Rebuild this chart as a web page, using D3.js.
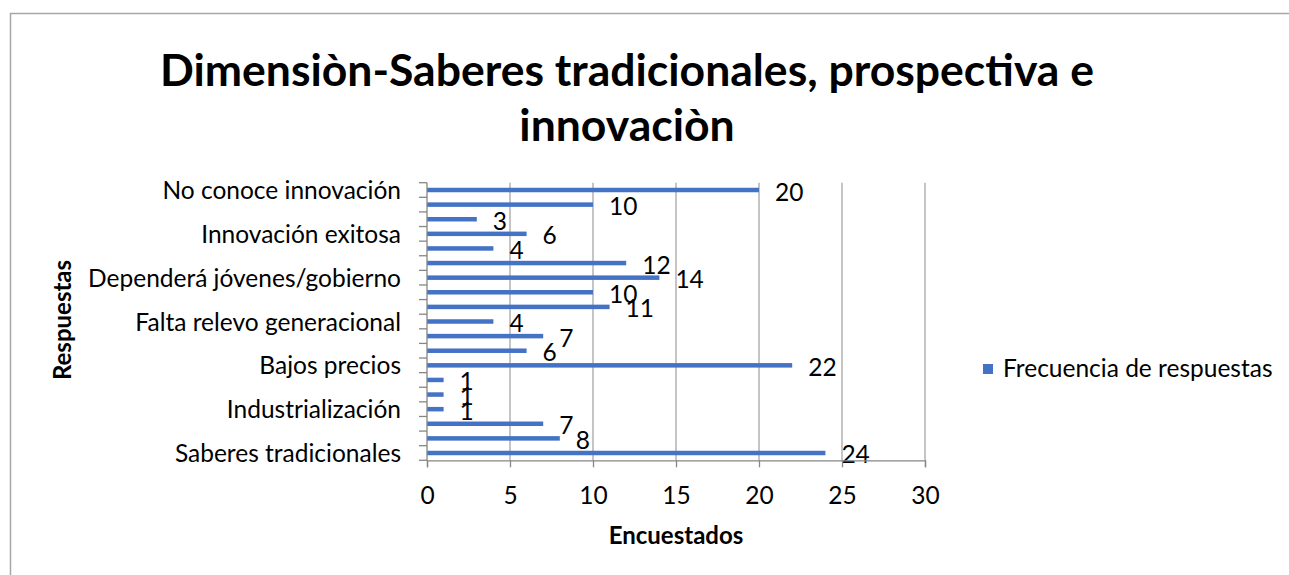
<!DOCTYPE html>
<html>
<head>
<meta charset="utf-8">
<script src="https://cdn.jsdelivr.net/npm/d3@7"></script>
<style>
  body { margin: 0; background: #fff; }
  text { font-family: Lato, "Open Sans", sans-serif; fill: #000; }
</style>
</head>
<body>
<div id="chart"></div>
<script>
// Horizontal bar chart: Dimension - Saberes tradicionales

var categories = [
  "Saberes tradicionales", "Respuesta 2", "Respuesta 3",
  "Industrialización", "Respuesta 5", "Respuesta 6",
  "Bajos precios", "Respuesta 8", "Respuesta 9",
  "Falta relevo generacional", "Respuesta 11", "Respuesta 12",
  "Dependerá jóvenes/gobierno", "Respuesta 14", "Respuesta 15",
  "Innovación exitosa", "Respuesta 17", "Respuesta 18",
  "No conoce innovación"
]
var values = [24, 8, 7, 1, 1, 1, 22, 6, 7, 4, 11, 10, 14, 12, 4, 6, 3, 10, 20]
var shownLabels = ["Saberes tradicionales", "Industrialización", "Bajos precios",
  "Falta relevo generacional", "Dependerá jóvenes/gobierno", "Innovación exitosa",
  "No conoce innovación"]
var xTicks = [0, 5, 10, 15, 20, 25, 30]
var seriesName = "Frecuencia de respuestas"
var titleLines = ["Dimensiòn-Saberes tradicionales, prospectiva e", "innovaciòn"]

var width = 1289, height = 575
var blue = "#4472C4"
var fs = 24.5

var svg = d3.select("#chart").append("svg")
    .attr("width", width)
    .attr("height", height)

// chart frame
svg.append("rect")
  .attr("x", 10.5).attr("y", 13.5)
  .attr("width", 1300).attr("height", 600)
  .attr("fill", "none")
  .attr("stroke", "#a6a6a6")
  .attr("stroke-width", 1.5)

// Scales

var x = d3.scaleLinear()
  .domain([0, 30])
  .range([427, 925])

var data = categories.map(function (c, i) { return { cat: c, value: values[i] } })

var y = d3.scaleBand()
  .domain(categories.slice().reverse())
  .range([182.7, 460.3])
  .padding(0)

var step = y.step()
var barH = 4.5

// gridlines
svg.selectAll(".grid")
  .data(xTicks.slice(1))
  .enter().append("line")
  .attr("class", "grid")
  .attr("x1", function (d) { return x(d) }).attr("x2", function (d) { return x(d) })
  .attr("y1", 182.7).attr("y2", 460.3)
  .attr("stroke", "#a6a6a6")
  .attr("stroke-width", 1.3)

// bars
svg.selectAll(".bar")
  .data(data)
  .enter().append("rect")
  .attr("class", "bar")
  .attr("x", x(0))
  .attr("y", function (d) { return y(d.cat) + step / 2 - barH / 2 })
  .attr("width", function (d) { return x(d.value) - x(0) })
  .attr("height", barH)
  .attr("fill", blue)

// data labels
svg.selectAll(".val")
  .data(data)
  .enter().append("text")
  .attr("class", "val")
  .attr("x", function (d) { return x(d.value) + 16 })
  .attr("y", function (d) { return y(d.cat) + step / 2 + 10.5 })
  .attr("font-size", fs)
  .text(function (d) { return d.value })

// x axis
var xAxis = svg.append("g")
  .attr("transform", "translate(0,460.3)")
  .call(d3.axisBottom(x).tickValues(xTicks).tickSize(7).tickPadding(19))
xAxis.select(".domain").attr("stroke", "#868686").attr("stroke-width", 1.3)
xAxis.selectAll(".tick line").attr("stroke", "#868686").attr("stroke-width", 1.3)
xAxis.selectAll(".tick text")
  .attr("font-size", fs)
  .attr("font-family", "Lato, sans-serif")
  .attr("fill", "#000")

// y axis: ticks at category boundaries
var yAxis = svg.append("g")
yAxis.append("line")
  .attr("x1", x(0)).attr("x2", x(0))
  .attr("y1", 182.7).attr("y2", 460.3)
  .attr("stroke", "#868686").attr("stroke-width", 1.3)
yAxis.selectAll(".ytick")
  .data(d3.range(categories.length + 1))
  .enter().append("line")
  .attr("class", "ytick")
  .attr("x1", x(0) - 8).attr("x2", x(0))
  .attr("y1", function (i) { return 182.7 + i * step })
  .attr("y2", function (i) { return 182.7 + i * step })
  .attr("stroke", "#868686").attr("stroke-width", 1.3)
yAxis.selectAll(".ylab")
  .data(shownLabels)
  .enter().append("text")
  .attr("class", "ylab")
  .attr("x", 401)
  .attr("y", function (d) { return y(d) + step / 2 + 9 })
  .attr("text-anchor", "end")
  .attr("font-size", fs)
  .text(function (d) { return d })

// titles
svg.selectAll(".title")
  .data(titleLines)
  .enter().append("text")
  .attr("class", "title")
  .attr("x", 627)
  .attr("y", function (d, i) { return 86 + i * 55 })
  .attr("text-anchor", "middle")
  .attr("font-size", 44.5)
  .attr("font-weight", "bold")
  .text(function (d) { return d })

svg.append("text")
  .attr("transform", "translate(71,320) rotate(-90)")
  .attr("text-anchor", "middle")
  .attr("font-size", 24)
  .attr("font-weight", "bold")
  .text("Respuestas")

svg.append("text")
  .attr("x", 676)
  .attr("y", 544)
  .attr("text-anchor", "middle")
  .attr("font-size", 24)
  .attr("font-weight", "bold")
  .text("Encuestados")

// legend
svg.append("rect")
  .attr("x", 983).attr("y", 364)
  .attr("width", 10).attr("height", 10)
  .attr("fill", blue)
svg.append("text")
  .attr("x", 1003).attr("y", 377)
  .attr("font-size", fs)
  .text(seriesName)
</script>
</body>
</html>
